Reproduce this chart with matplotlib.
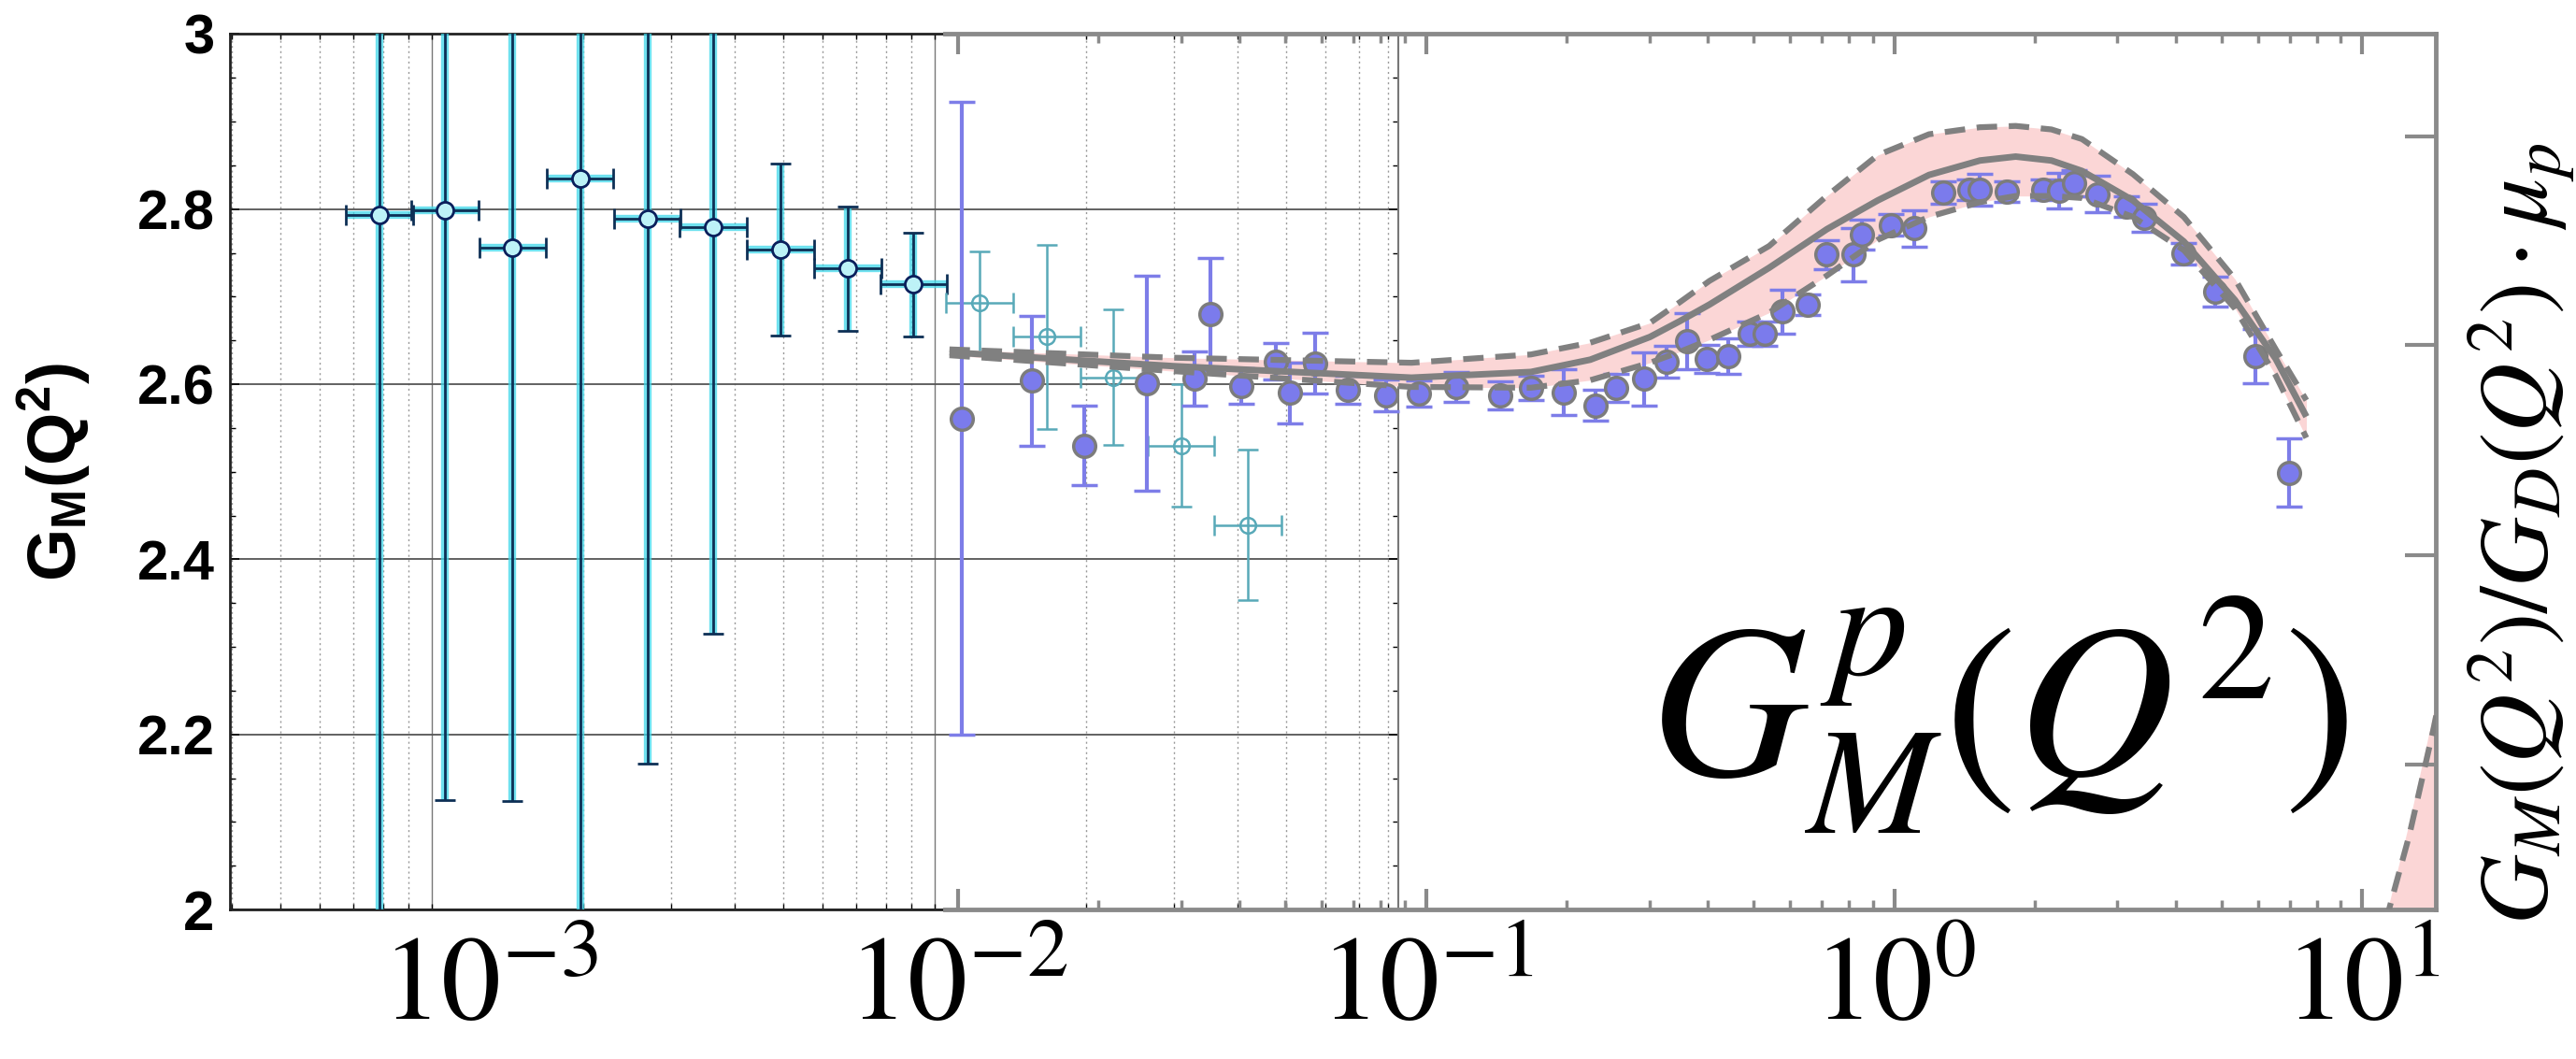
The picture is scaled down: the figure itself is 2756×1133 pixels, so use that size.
"""Proton magnetic form factor G_M(Q^2): low-Q^2 panel overlaid with the ratio inset."""

import numpy as np
import matplotlib

matplotlib.use("Agg")
import matplotlib.pyplot as plt
from matplotlib.ticker import FixedLocator, MultipleLocator, NullLocator, NullFormatter

plt.rcParams["font.family"] = ["Liberation Sans", "DejaVu Sans"]
plt.rcParams["mathtext.fontset"] = "custom"
plt.rcParams["mathtext.rm"] = "Liberation Sans:bold"
plt.rcParams["mathtext.it"] = "Liberation Sans:italic"
plt.rcParams["mathtext.bf"] = "Liberation Sans:bold"

# --- low-Q^2 panel (open circles) ---
cyan_q2 = [7.87e-4, 1.064e-3, 1.449e-3, 1.973e-3, 2.686e-3, 3.63e-3, 4.94e-3, 6.73e-3, 9.09e-3]
cyan_gm = [2.793, 2.799, 2.756, 2.835, 2.789, 2.779, 2.754, 2.732, 2.714]
cyan_err = [0.90, 0.674, 0.632, 1.00, 0.622, 0.464, 0.098, 0.071, 0.059]

light_q2 = [1.228e-2, 1.673e-2, 2.273e-2, 3.094e-2, 4.199e-2]
light_gm = [2.693, 2.654, 2.608, 2.530, 2.439]
light_err = [0.059, 0.105, 0.077, 0.070, 0.086]

bin_factor = 1.166  # half-width of the Q^2 bins (multiplicative)

# --- inset: world data and fit ---
blue_q2 = [0.0102, 0.0144, 0.0186, 0.0253, 0.0321, 0.0347, 0.0404, 0.0479, 0.0513, 0.0579,
           0.0681, 0.0823, 0.0965, 0.116, 0.144, 0.168, 0.197, 0.230, 0.255, 0.292,
           0.327, 0.361, 0.397, 0.443, 0.492, 0.528, 0.577, 0.654, 0.716, 0.819,
           0.854, 0.982, 1.105, 1.272, 1.450, 1.525, 1.737, 2.086, 2.248, 2.424,
           2.715, 3.140, 3.420, 4.157, 4.857, 5.909, 6.959]
blue_gm = [2.561, 2.604, 2.530, 2.601, 2.606, 2.680, 2.598, 2.626, 2.590, 2.624,
           2.594, 2.587, 2.589, 2.597, 2.587, 2.596, 2.591, 2.576, 2.596, 2.606,
           2.626, 2.649, 2.629, 2.632, 2.658, 2.658, 2.683, 2.691, 2.748, 2.748,
           2.771, 2.782, 2.778, 2.819, 2.822, 2.822, 2.820, 2.822, 2.821, 2.830,
           2.817, 2.803, 2.790, 2.749, 2.706, 2.632, 2.499]
blue_err = [0.361, 0.074, 0.045, 0.123, 0.031, 0.064, 0.020, 0.021, 0.035, 0.035,
            0.016, 0.018, 0.015, 0.017, 0.016, 0.014, 0.026, 0.018, 0.016, 0.030,
            0.018, 0.032, 0.016, 0.020, 0.014, 0.014, 0.025, 0.012, 0.017, 0.030,
            0.017, 0.012, 0.021, 0.013, 0.012, 0.018, 0.012, 0.012, 0.020, 0.015,
            0.021, 0.012, 0.016, 0.012, 0.017, 0.031, 0.039]

fit_q2 = [0.0096, 0.0288, 0.0931, 0.1675, 0.2243, 0.3009, 0.3484, 0.4032, 0.5408, 0.718,
          0.923, 1.187, 1.525, 1.818, 2.167, 2.518, 3.235, 4.157, 5.347, 6.531, 7.594]
fit_central = [2.6365, 2.6207, 2.6075, 2.614, 2.628, 2.654, 2.672, 2.691, 2.733, 2.777,
               2.810, 2.839, 2.8555, 2.860, 2.8555, 2.8436, 2.810, 2.763, 2.696, 2.629, 2.563]
fit_upper = [2.6398, 2.6303, 2.6245, 2.634, 2.6474, 2.670, 2.6936, 2.718, 2.7579, 2.815,
             2.8617, 2.8855, 2.8935, 2.895, 2.891, 2.880, 2.840, 2.791, 2.72, 2.64, 2.5817]
fit_lower = [2.6331, 2.615, 2.5969, 2.596, 2.6046, 2.6245, 2.637, 2.6508, 2.6817, 2.724,
             2.765, 2.7912, 2.8079, 2.815, 2.815, 2.8127, 2.7912, 2.7531, 2.6864, 2.61, 2.5388]

wedge_q2 = [11.2, 12.6, 14.2, 15.0]
wedge_hi = [1.99, 2.10, 2.226, 2.29]
wedge_lo = [1.80, 1.85, 1.95, 1.98]
wedge_dash = [1.985, 2.085, 2.207, 2.27]

# --- axes / labels ---
left_yticks = [2.0, 2.2, 2.4, 2.6, 2.8, 3.0]
left_ylabels = ["2", "2.2", "2.4", "2.6", "2.8", "3"]
inset_yticks = [2.166, 2.405, 2.645, 2.883]
decade_ticks = [1e-3, 1e-2, 1e-1, 1e0, 1e1]
decade_labels = [r"$10^{-3}$", r"$10^{-2}$", r"$10^{-1}$", r"$10^{0}$", r"$10^{1}$"]

GRAY = "#8a8a8a"
BAND = "#fbd6d6"

fig = plt.figure(figsize=(27.56, 11.33), dpi=100)
bottom, height = 0.1411, 0.8268
ax_lab = fig.add_axes([0.0893, bottom, 0.8563, height], zorder=0)
ax_left = fig.add_axes([0.0893, bottom, 0.4536, height], zorder=1)
ax_in = fig.add_axes([0.3667, bottom, 0.5788, height], zorder=2)

# label carrier: big decade labels along the bottom
ax_lab.set_xscale("log")
ax_lab.set_xlim(10 ** -3.5544, 10 ** 1.1565)
ax_lab.set_ylim(2, 3)
ax_lab.patch.set_visible(False)
for s in ax_lab.spines.values():
    s.set_visible(False)
ax_lab.set_yticks([])
ax_lab.xaxis.set_major_locator(FixedLocator(decade_ticks))
ax_lab.xaxis.set_minor_locator(NullLocator())
ax_lab.set_xticklabels(decade_labels, fontsize=92, math_fontfamily="stix")
ax_lab.tick_params(axis="x", length=0, pad=18)

# left panel
ax_left.set_xscale("log")
ax_left.set_xlim(10 ** -3.401, 10 ** -1.0768)
ax_left.set_ylim(2, 3)
ax_left.set_yticks(left_yticks)
ax_left.set_yticklabels(left_ylabels, fontsize=43, fontweight="bold")
ax_left.yaxis.set_minor_locator(MultipleLocator(0.05))
ax_left.xaxis.set_major_formatter(NullFormatter())
ax_left.xaxis.set_minor_formatter(NullFormatter())
ax_left.tick_params(axis="y", which="major", direction="in", length=7, width=1.2,
                    left=True, right=True, pad=12)
ax_left.tick_params(axis="y", which="minor", direction="in", length=4, width=1, left=True, right=True)
ax_left.tick_params(axis="x", which="both", direction="in", length=4, width=1, top=True, bottom=True)
ax_left.grid(True, which="major", axis="y", color="#555555", lw=1.3)
ax_left.grid(True, which="major", axis="x", color="#777777", lw=1.0)
ax_left.grid(True, which="minor", axis="x", color="#999999", lw=1.0, ls=(0, (1.5, 2.5)))
ax_left.set_axisbelow(True)
for side in ("left", "bottom", "top"):
    ax_left.spines[side].set_color("#222222")
    ax_left.spines[side].set_linewidth(2)
ax_left.spines["right"].set_color("#777777")
ax_left.spines["right"].set_linewidth(1.5)

xe_lo = [x - x / bin_factor for x in cyan_q2]
xe_hi = [x * bin_factor - x for x in cyan_q2]
ax_left.errorbar(cyan_q2, cyan_gm, yerr=cyan_err, xerr=[xe_lo, xe_hi], fmt="none",
                 ecolor="#3fd8ea", elinewidth=6, alpha=0.75, zorder=3)
ax_left.errorbar(cyan_q2, cyan_gm, yerr=cyan_err, xerr=[xe_lo, xe_hi], fmt="o", ms=13,
                 mfc="#bdf2f7", mec="#0a1f5c", mew=2, ecolor="#0d2f55", elinewidth=2,
                 capsize=8, capthick=2, zorder=4)

lxe_lo = [x - x / bin_factor for x in light_q2]
lxe_hi = [x * bin_factor - x for x in light_q2]
ax_left.errorbar(light_q2, light_gm, yerr=light_err, xerr=[lxe_lo, lxe_hi], fmt="o", ms=12,
                 mfc="none", mec="#58a9b8", mew=1.8, ecolor="#58a9b8", elinewidth=1.8,
                 capsize=8, capthick=1.8, zorder=4)

# inset
ax_in.set_xscale("log")
ax_in.set_xlim(10 ** -2.0281, 10 ** 1.1565)
ax_in.set_ylim(2, 3)
ax_in.patch.set_visible(False)
ax_in.spines["left"].set_visible(False)
for side in ("top", "bottom", "right"):
    ax_in.spines[side].set_color(GRAY)
    ax_in.spines[side].set_linewidth(3.5)
ax_in.xaxis.set_major_formatter(NullFormatter())
ax_in.xaxis.set_minor_formatter(NullFormatter())
ax_in.yaxis.set_major_locator(FixedLocator(inset_yticks))
ax_in.yaxis.set_major_formatter(NullFormatter())
ax_in.tick_params(axis="x", which="major", direction="in", length=16, width=3, color=GRAY,
                  top=True, bottom=True)
ax_in.tick_params(axis="x", which="minor", direction="in", length=7, width=2.5, color=GRAY,
                  top=True, bottom=True)
ax_in.tick_params(axis="y", which="major", direction="in", length=24, width=3, color=GRAY,
                  left=False, right=True)

ax_in.fill_between(fit_q2, fit_lower, fit_upper, color=BAND, lw=0, zorder=1)
ax_in.fill_between(wedge_q2, wedge_lo, wedge_hi, color=BAND, lw=0, zorder=1)
ax_in.errorbar(blue_q2, blue_gm, yerr=blue_err, fmt="o", ms=17, mfc="#7b7bec", mec="#7c7c7c",
               mew=2.5, ecolor="#7d7de8", elinewidth=3, capsize=10, capthick=3, zorder=3)
ax_in.plot(fit_q2, fit_central, color="#808080", lw=5, solid_capstyle="butt", zorder=5)
ax_in.plot(fit_q2, fit_upper, color="#808080", lw=4.5, dashes=(3.5, 2), zorder=5)
ax_in.plot(fit_q2, fit_lower, color="#808080", lw=4.5, dashes=(3.5, 2), zorder=5)
ax_in.plot(wedge_q2, wedge_dash, color="#808080", lw=4.5, dashes=(3.5, 2), zorder=5)

# texts
ax_left.set_ylabel(r"G$_\mathrm{M}$(Q$^\mathrm{2}$)", fontsize=52, fontweight="bold")
ax_left.yaxis.set_label_coords(-0.118, 0.50)
fig.text(0.9786, 0.496, r"$G_M(Q^2)/G_D(Q^2)\cdot\mu_p$", rotation=90, fontsize=74,
         math_fontfamily="stix", ha="center", va="center")
fig.text(0.776, 0.325, r"$G^p_M(Q^2)$", fontsize=168, math_fontfamily="stix",
         ha="center", va="center")

fig.savefig("out.png", dpi=100)
